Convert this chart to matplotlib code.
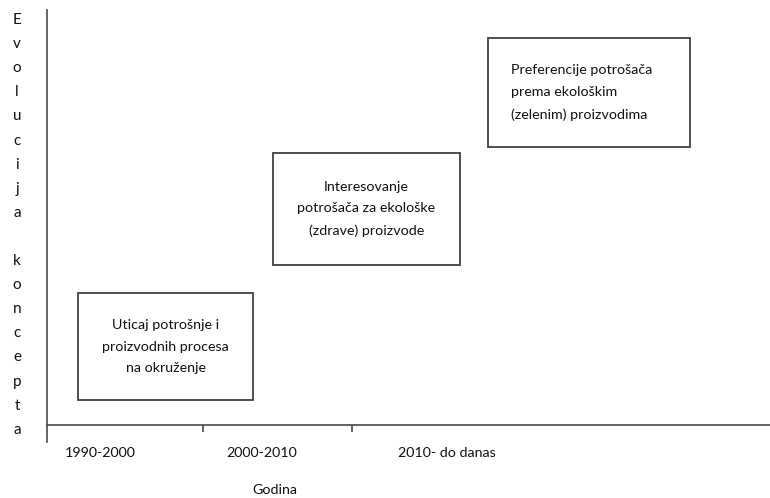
import matplotlib.pyplot as plt
from matplotlib.patches import Rectangle

# periods on the x axis and the concept stages shown in the boxes
periods = ["1990-2000", "2000-2010", "2010- do danas"]
stages = [
    "Uticaj potrošnje i\nproizvodnih procesa\nna okruženje",
    "Interesovanje\npotrošača za ekološke\n(zdrave) proizvode",
    "Preferencije potrošača\nprema ekološkim\n(zelenim) proizvodima",
]
y_title = "Evolucija koncepta"
x_title = "Godina"

# layout (pixel units, origin at the axes corner)
W, H = 770, 498
x0, y0 = 47, 425
boundaries = [156, 305]
label_x = [53, 215, 400]
boxes = [(31, 25, 175, 107), (226, 160, 187, 112), (441, 278, 202, 109)]
text_align = ["center", "center", "left"]
line_col = "#4a4a4a"
txt_col = "#111111"
font = ["Lato", "DejaVu Sans"]

fig = plt.figure(figsize=(W / 100, H / 100), dpi=100)
ax = fig.add_axes([x0 / W, (H - y0 - 17) / H, (W - x0) / W, (y0 + 17 - 10) / H])
ax.set_xlim(0, W - x0)
ax.set_ylim(-17, y0 - 10)

for s in ["top", "right"]:
    ax.spines[s].set_visible(False)
for s in ["left", "bottom"]:
    ax.spines[s].set_color(line_col)
    ax.spines[s].set_linewidth(1.2)
ax.spines["bottom"].set_position(("data", 0))
ax.set_yticks([])
ax.set_xticks(boundaries)
ax.set_xticklabels([])
ax.tick_params(axis="x", which="major", length=5, color=line_col, width=1.2)
ax.set_xticks(label_x, minor=True)
ax.set_xticklabels(periods, minor=True, fontsize=10.3, family=font, color=txt_col)
ax.tick_params(axis="x", which="minor", length=0, pad=16)

for (bx, by, bw, bh), txt, al in zip(boxes, stages, text_align):
    ax.add_patch(Rectangle((bx, by), bw, bh, fill=False, edgecolor="#404040", lw=1.3))
    tx = bx + bw / 2 if al == "center" else bx + 23
    ax.text(tx, by + bh / 2, txt, ha=al, va="center", fontsize=10.3, family=font,
            color=txt_col, linespacing=1.95)

ax.text(228, -65, x_title, ha="center", va="center", fontsize=10.3, family=font,
        color=txt_col, clip_on=False)

letters = list(y_title)
step = 24.1
for i, ch in enumerate(letters):
    ax.text(-30, y0 - 20 - i * step, ch, ha="center", va="center", fontsize=11,
            family=font, color=txt_col, clip_on=False)

fig.savefig("out.png", dpi=100)
